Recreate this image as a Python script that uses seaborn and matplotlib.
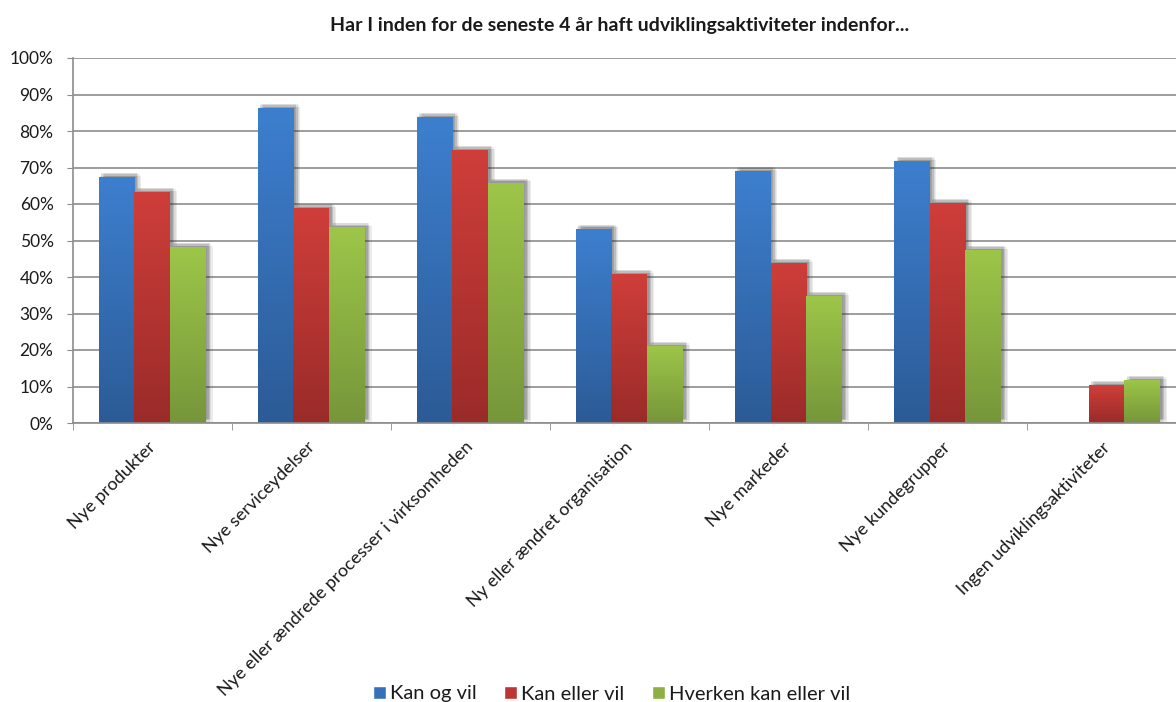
import numpy as np
import pandas as pd
import matplotlib
matplotlib.use("Agg")
import matplotlib.pyplot as plt
import matplotlib.patheffects as pe
import matplotlib.transforms as mtransforms
import seaborn as sns
from matplotlib.colors import LinearSegmentedColormap
from matplotlib.ticker import MultipleLocator, PercentFormatter

categories = ["Nye produkter", "Nye serviceydelser",
              "Nye eller ændrede processer i virksomheden",
              "Ny eller ændret organisation", "Nye markeder",
              "Nye kundegrupper", "Ingen udviklingsaktiviteter"]
series = ["Kan og vil", "Kan eller vil", "Hverken kan eller vil"]
kan_og_vil = [67.4, 86.3, 83.8, 53.2, 69.0, 71.8, 0.0]
kan_eller_vil = [63.3, 58.9, 74.8, 40.8, 43.8, 60.3, 10.4]
hverken = [48.2, 53.6, 65.8, 21.1, 34.8, 47.4, 11.8]
title = "Har I inden for de seneste 4 år haft udviklingsaktiviteter indenfor..."

top_colors = ["#3d7fcf", "#cf3e3a", "#9dc649"]
bot_colors = ["#2c5b96", "#9a2b29", "#76963a"]
mid_colors = ["#3770b8", "#bd3633", "#8cb042"]

rows = []
for s, vals in zip(series, [kan_og_vil, kan_eller_vil, hverken]):
    for c, v in zip(categories, vals):
        rows.append({"cat": c, "series": s, "value": v})
df = pd.DataFrame(rows)

sns.set_style("white")
plt.rcParams["font.family"] = ["Lato", "DejaVu Sans"]

fig = plt.figure(figsize=(11.76, 7.02), dpi=100)
ax = fig.add_axes([72.7 / 1176, 1 - 423 / 702, (1186 - 72.7) / 1176, (423 - 58) / 702])

sns.barplot(data=df, x="cat", y="value", hue="series", order=categories,
            hue_order=series, palette=mid_colors, width=0.675, gap=0,
            ax=ax, saturation=1, legend=True)

ax.set_ylim(0, 100)
ax.set_xlim(-0.5, len(categories) - 0.5)

shadow = [pe.SimplePatchShadow(offset=o, shadow_rgbFace="#333333", alpha=0.09)
          for o in [(1, 1), (2, 2), (3, 1), (4, 2), (3, 3), (5, 1), (2, 3)]]

for i, cont in enumerate(ax.containers):
    cmap = LinearSegmentedColormap.from_list("g%d" % i, [bot_colors[i], top_colors[i]])
    for bar in cont:
        h = bar.get_height()
        if h <= 0:
            bar.set_visible(False)
            continue
        bar.set_path_effects(shadow + [pe.Normal()])
        bar.set_edgecolor("none")
        x0 = bar.get_x(); w = bar.get_width()
        grad = np.linspace(0, 1, 256).reshape(-1, 1)
        im = ax.imshow(grad, cmap=cmap, origin="lower", aspect="auto",
                       extent=[x0, x0 + w, 0, h], zorder=bar.get_zorder() + 0.1,
                       interpolation="bilinear")
        im.set_clip_path(bar)

ax.set_xlim(-0.5, len(categories) - 0.5)
ax.set_ylim(0, 100)

ax.yaxis.set_major_locator(MultipleLocator(10))
ax.yaxis.set_major_formatter(PercentFormatter(decimals=0))
ax.grid(axis="y", color="#8c8c8c", linewidth=1.2)
ax.set_axisbelow(True)
for s in ["top", "right"]:
    ax.spines[s].set_visible(False)
for s in ["left", "bottom"]:
    ax.spines[s].set_color("#8c8c8c")
    ax.spines[s].set_linewidth(1.2)

ax.set_xlabel("")
ax.set_ylabel("")
ax.tick_params(axis="y", left=True, length=4.3, color="#8c8c8c", labelsize=12.5, pad=9.5, labelcolor="#1a1a1a")

ax.set_xticks(np.arange(len(categories)))
ax.set_xticklabels(categories, rotation=45, ha="right", rotation_mode="anchor", fontsize=13, color="#1a1a1a")
ax.tick_params(axis="x", bottom=False, pad=8)
offset = mtransforms.ScaledTranslation(-5 / 100, 0, fig.dpi_scale_trans)
for lab in ax.get_xticklabels():
    lab.set_transform(lab.get_transform() + offset)
ax.set_xticks(np.arange(len(categories) + 1) - 0.5, minor=True)
ax.tick_params(axis="x", which="minor", bottom=True, length=5, color="#8c8c8c")

fig.text(0.527, 1 - 25 / 702, title, ha="center", va="center", fontsize=14, fontweight="bold", color="#1a1a1a")

sns.move_legend(ax, "center", bbox_to_anchor=(0.52, 1 - 694 / 702), bbox_transform=fig.transFigure,
                ncol=3, frameon=False, title=None, fontsize=14.5, handlelength=0.65, handleheight=0.65,
                handletextpad=0.2, columnspacing=1.35)
leg = ax.get_legend()
for t in leg.get_texts():
    t.set_color("#1a1a1a")

fig.savefig("out.png", dpi=100)
